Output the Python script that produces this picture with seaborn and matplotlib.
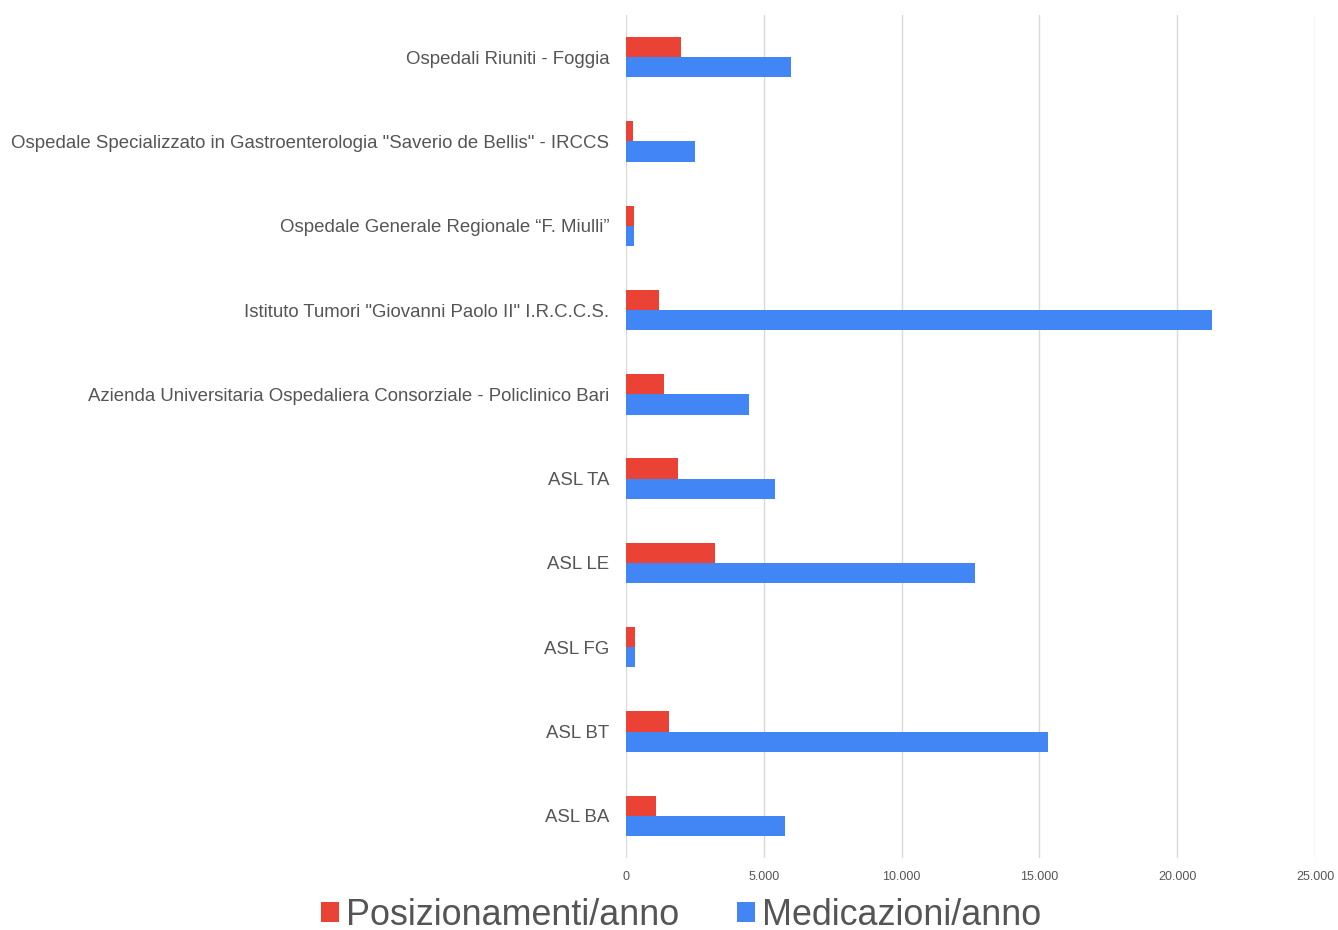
import matplotlib
matplotlib.use("Agg")
import matplotlib.pyplot as plt
import seaborn as sns
import pandas as pd
from matplotlib.ticker import FuncFormatter, MultipleLocator
from matplotlib.patches import Patch

categories = [
    "Ospedali Riuniti - Foggia",
    "Ospedale Specializzato in Gastroenterologia \"Saverio de Bellis\" - IRCCS",
    "Ospedale Generale Regionale \u201cF. Miulli\u201d",
    "Istituto Tumori \"Giovanni Paolo II\" I.R.C.C.S.",
    "Azienda Universitaria Ospedaliera Consorziale - Policlinico Bari",
    "ASL TA",
    "ASL LE",
    "ASL FG",
    "ASL BT",
    "ASL BA",
]
posizionamenti = [2000, 240, 290, 1180, 1380, 1890, 3230, 340, 1560, 1090]
medicazioni = [6000, 2500, 290, 21250, 4470, 5400, 12650, 340, 15320, 5780]
series_names = ["Posizionamenti/anno", "Medicazioni/anno"]
colors = ["#EA4335", "#4285F4"]

df = pd.DataFrame({
    "cat": categories * 2,
    "val": posizionamenti + medicazioni,
    "serie": [series_names[0]] * len(categories) + [series_names[1]] * len(categories),
})

sns.set_theme(style="white")
plt.rcParams["font.family"] = ["Liberation Sans", "DejaVu Sans"]

fig = plt.figure(figsize=(13.38, 9.30), dpi=100)
ax = fig.add_axes([626 / 1338, 1 - 858 / 930, (1315 - 626) / 1338, (858 - 15) / 930])

sns.barplot(data=df, y="cat", x="val", hue="serie", orient="h", palette=colors,
            width=0.48, ax=ax, legend=False, saturation=1, edgecolor="none")

ax.set_xlim(0, 25000)
ax.set_ylim(len(categories) - 0.5, -0.5)
ax.xaxis.set_major_locator(MultipleLocator(5000))
ax.xaxis.set_major_formatter(FuncFormatter(lambda v, p: f"{int(v):,}".replace(",", ".")))
ax.grid(axis="x", color="#D9D9D9", linewidth=1)
ax.set_axisbelow(True)
for s in ax.spines.values():
    s.set_visible(False)
ax.set_xlabel("")
ax.set_ylabel("")
ax.tick_params(axis="x", length=0, pad=9, labelsize=9, labelcolor="#555555")
for t in ax.get_xticklabels():
    t.set_family(["Liberation Sans Narrow", "Liberation Sans", "DejaVu Sans"])
ax.tick_params(axis="y", length=0, pad=12, labelsize=13.4, labelcolor="#555555")

handles = [Patch(facecolor=c, edgecolor="none") for c in colors]
fig.legend(handles, series_names, loc="center", bbox_to_anchor=(681 / 1338, 1 - 915 / 930),
           ncol=2, frameon=False, fontsize=25.8, labelcolor="#555555",
           handlelength=0.5, handleheight=0.5, handletextpad=0.2, columnspacing=1.6)

fig.savefig("out.png", dpi=100)
